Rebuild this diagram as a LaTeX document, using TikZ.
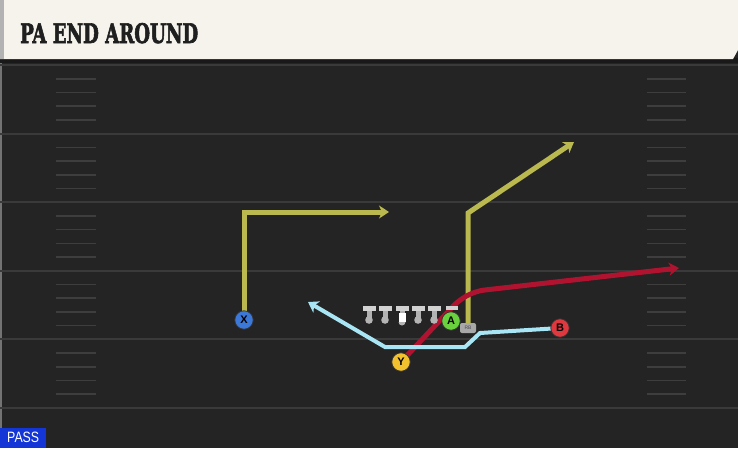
\documentclass[tikz,border=0pt]{standalone}
\usepackage{fontspec}
\setmainfont{DejaVu Serif}
\newfontfamily\titlefont[BoldFeatures={FakeBold=2.5}]{DejaVu Serif Condensed}
\newfontfamily\labelfont{Liberation Sans}
\usetikzlibrary{arrows.meta}
\definecolor{fieldbg}{HTML}{242424}
\definecolor{yardline}{HTML}{3A3A3A}
\definecolor{hashc}{HTML}{3E3E3E}
\definecolor{headbg}{HTML}{F5F3EC}
\definecolor{routeyel}{HTML}{B9B94F}
\definecolor{routered}{HTML}{B0132F}
\definecolor{routecyan}{HTML}{A9E6F5}
\definecolor{pblue}{HTML}{3C78D8}
\definecolor{pyellow}{HTML}{F2C12E}
\definecolor{pgreen}{HTML}{69D13E}
\definecolor{pred}{HTML}{E0383F}
\definecolor{passblue}{HTML}{1536D6}
\definecolor{olgray}{HTML}{D2D2D2}
\definecolor{olball}{HTML}{B4B4B4}
\pgfdeclarelayer{field}
\pgfdeclarelayer{routes}
\pgfsetlayers{field,routes,main}
\tikzset{
  player/.style={circle, minimum size=18.5pt, inner sep=0pt, draw=black!80, line width=0.8pt,
    font=\labelfont\bfseries\fontsize{11}{11}\selectfont, text=black},
  route/.style={line width=5pt, line join=miter, -{Stealth[length=10pt,width=13pt,inset=3pt]}},
  yelroute/.style={route, draw=routeyel},
  redroute/.style={route, draw=routered},
  cyanroute/.style={route, line width=4pt, draw=routecyan},
  rbtag/.style={rectangle, rounded corners=2pt, fill=olgray!80!black, minimum width=16pt, minimum height=10pt,
    inner sep=0pt, font=\labelfont\fontsize{5}{5}\selectfont, text=black!70},
}
\begin{document}
\begin{tikzpicture}[x=1pt,y=-1pt]
\useasboundingbox (0,0) rectangle (738,448);
\begin{pgfonlayer}{field}
  % field
  \fill[fieldbg] (0,0) rectangle (738,448);
  \fill[black!55] (0,0) rectangle (2,448);
  \foreach \i in {0,...,5}{
    \draw[yardline, line width=2pt] (0,65+68.6*\i) -- (738,65+68.6*\i);
  }
  \foreach \i in {0,...,4}{
    \foreach \k in {1,...,4}{
      \draw[hashc, line width=1.6pt] (56,65+68.6*\i+13.7*\k) -- (96,65+68.6*\i+13.7*\k);
      \draw[hashc, line width=1.6pt] (647,65+68.6*\i+13.7*\k) -- (686,65+68.6*\i+13.7*\k);
    }
  }
  % header
  \fill[black!90] (0,58) rectangle (738,63);
  \fill[headbg] (0,0) -- (738,0) -- (738,50) -- (733,59) -- (0,59) -- cycle;
  \fill[black!30] (0,0) rectangle (4,59);
\end{pgfonlayer}

\node[anchor=base west, inner sep=0pt, text=black!88] (title) at (20,43)
  {\resizebox{178pt}{20pt}{\titlefont\bfseries PA END AROUND}};

\node[anchor=south west, fill=passblue, minimum width=46pt, minimum height=20pt, inner sep=0pt,
  text=white, font=\labelfont\fontsize{15}{15}\selectfont] (pass) at (0,448)
  {\scalebox{0.82}[1]{PASS}};

% linemen
\foreach \cx in {369,385,418,434}{
  \fill[olgray] (\cx-6.5,305.5) rectangle (\cx+6.5,310.5);
  \fill[olgray!85!black] (\cx-2.5,310.5) rectangle (\cx+2.5,318);
  \fill[olball] (\cx,320) circle (3.8pt);
}
\fill[olgray] (395.5,305.5) rectangle (408.5,310.5);
\fill[olgray!85!black] (399.5,310.5) rectangle (404.5,313);
\fill[white] (398.5,313) rectangle (405.5,321.5);
\fill[olball] (398.5,322) arc[start angle=180, end angle=360, radius=3.5pt] -- cycle;
\fill[olgray] (446,305.5) rectangle (458,309.5);

% players
\node[player, fill=pblue] (X) at (244,320) {X};
\node[player, fill=pyellow] (Y) at (401,362) {Y};
\node[player, fill=pgreen] (A) at (451,321) {A};
\node[player, fill=pred] (B) at (560,328) {B};
\node[rbtag] (RB) at (468,328) {RB};

% route end points
\coordinate (xc) at (244,212);
\coordinate (xe) at (389,212);
\coordinate (rbc) at (468,213);
\coordinate (rbe) at (574,142);
\coordinate (yc1) at (459,300);
\coordinate (yc2) at (476,291);
\coordinate (ye) at (679,268);
\coordinate (b1) at (480,333);
\coordinate (b2) at (465,347);
\coordinate (b3) at (385,347);
\coordinate (be) at (308,302);

\begin{pgfonlayer}{routes}
  \draw[yelroute] (X.center) -- (xc) -- (xe);
  \draw[yelroute] (RB.north) -- (rbc) -- (rbe);
  \draw[redroute, rounded corners=8pt] (Y.center) -- (yc1) -- (yc2) -- (ye);
  \draw[cyanroute] (B.center) -- (b1) -- (b2) -- (b3) -- (be);
\end{pgfonlayer}
\end{tikzpicture}
\end{document}
